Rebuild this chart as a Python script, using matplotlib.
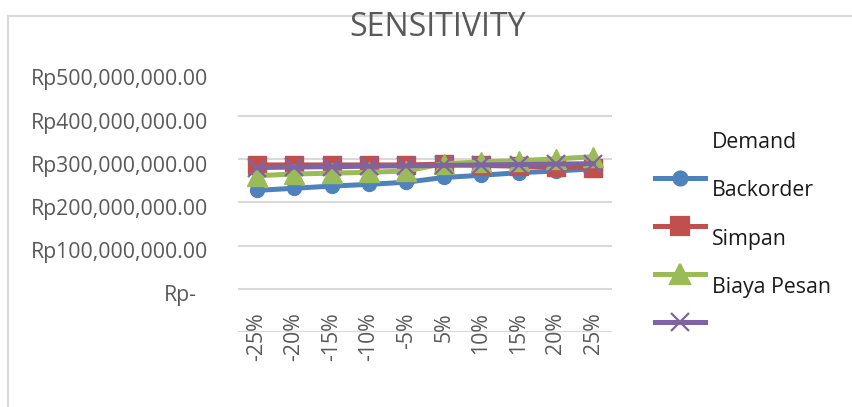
import matplotlib.pyplot as plt
from matplotlib.lines import Line2D
from matplotlib.patches import Rectangle
from matplotlib.transforms import blended_transform_factory

# categories and series (values in Rupiah)
categories = ["-25%", "-20%", "-15%", "-10%", "-5%", "5%", "10%", "15%", "20%", "25%"]
demand = [228e6, 233e6, 238e6, 242e6, 247e6, 258e6, 263e6, 269e6, 273e6, 278e6]
backorder = [287e6, 287e6, 287e6, 287e6, 287e6, 289e6, 286e6, 284e6, 282e6, 281e6]
simpan = [262e6, 266e6, 268e6, 270e6, 273e6, 290e6, 294e6, 297e6, 301e6, 306e6]
biaya_pesan = [281e6, 282e6, 283e6, 284e6, 285e6, 286e6, 287e6, 288e6, 289e6, 290e6]

y_ticks = [500e6, 400e6, 300e6, 200e6, 100e6, 0]
y_labels = ["Rp500,000,000.00", "Rp400,000,000.00", "Rp300,000,000.00",
            "Rp200,000,000.00", "Rp100,000,000.00", "Rp-"]
legend_texts = ["Demand", "Backorder", "Simpan", "Biaya Pesan", ""]

blue, red, green, purple = "#4F81BD", "#C0504D", "#9BBB59", "#8064A2"
grey_txt = "#595959"
grid_c = "#D9D9D9"

plt.rcParams['font.family'] = ['Open Sans', 'DejaVu Sans']

W, H = 852, 407
fig = plt.figure(figsize=(W / 100, H / 100), dpi=100)

# chart area border
fig.add_artist(Rectangle((8 / W, -0.1), 1.2, 1 - 16 / H + 0.1, transform=fig.transFigure,
                         fill=False, edgecolor=grid_c, linewidth=1.5))

ax = fig.add_axes([238 / W, 1 - 332 / H, (612 - 238) / W, (332 - 73) / H])
ax.set_xlim(-0.5, len(categories) - 0.5)
ax.set_ylim(-100e6, 500e6)
for s in ax.spines.values():
    s.set_visible(False)
ax.set_xticks([])
ax.set_yticks([])

# gridlines (incl. horizontal axis line at bottom)
for v in [400e6, 300e6, 200e6, 100e6, 0, -100e6]:
    ax.axhline(v, color=grid_c, linewidth=1.5, zorder=0)

x = list(range(len(categories)))
lw = 3.6
ax.plot(x, demand, color=blue, lw=lw, marker='o', ms=10, zorder=2)
ax.plot(x, backorder, color=red, lw=lw, marker='s', ms=13.5, zorder=3)
ax.plot(x, simpan, color=green, lw=lw, marker='^', ms=14, zorder=4)
ax.plot(x, biaya_pesan, color=purple, lw=lw, marker='x', ms=13, mew=1.6, zorder=5)

# value axis labels (sit a bit below their gridline, as in the original)
lab_tr = blended_transform_factory(fig.transFigure, ax.transData)
for v, lab in zip(y_ticks, y_labels):
    xr = 208 if lab != "Rp-" else 197
    ax.text(xr / W, v - 16e6, lab, transform=lab_tr,
            ha='right', va='center', fontsize=15.3, color=grey_txt, clip_on=False)

# category labels
for i, c in enumerate(categories):
    ax.text(i, -55e6, c, rotation=90, ha='center', va='top', fontsize=15.3,
            color=grey_txt, clip_on=False)

fig.text(438 / W, 1 - 28 / H, "SENSITIVITY", ha='center', va='center',
         fontsize=23, color=grey_txt)

# legend drawn by hand (labels sit offset from their keys)
key_y = [178, 226, 274, 322]
key_style = [(blue, 'o', 10), (red, 's', 13.5), (green, '^', 14), (purple, 'x', 13)]
for y, (col, mk, ms) in zip(key_y, key_style):
    fy = 1 - y / H
    fig.add_artist(Line2D([655 / W, 705 / W], [fy, fy], color=col, lw=lw,
                          transform=fig.transFigure))
    fig.add_artist(Line2D([680 / W], [fy], color=col, marker=mk, ms=ms, mew=1.6,
                          transform=fig.transFigure))
text_y = [142, 190, 239, 287]
for y, t in zip(text_y, legend_texts):
    fig.text(712 / W, 1 - y / H, t, ha='left', va='center', fontsize=15.3, color="#1a1a1a")

fig.savefig("out.png", dpi=100)
